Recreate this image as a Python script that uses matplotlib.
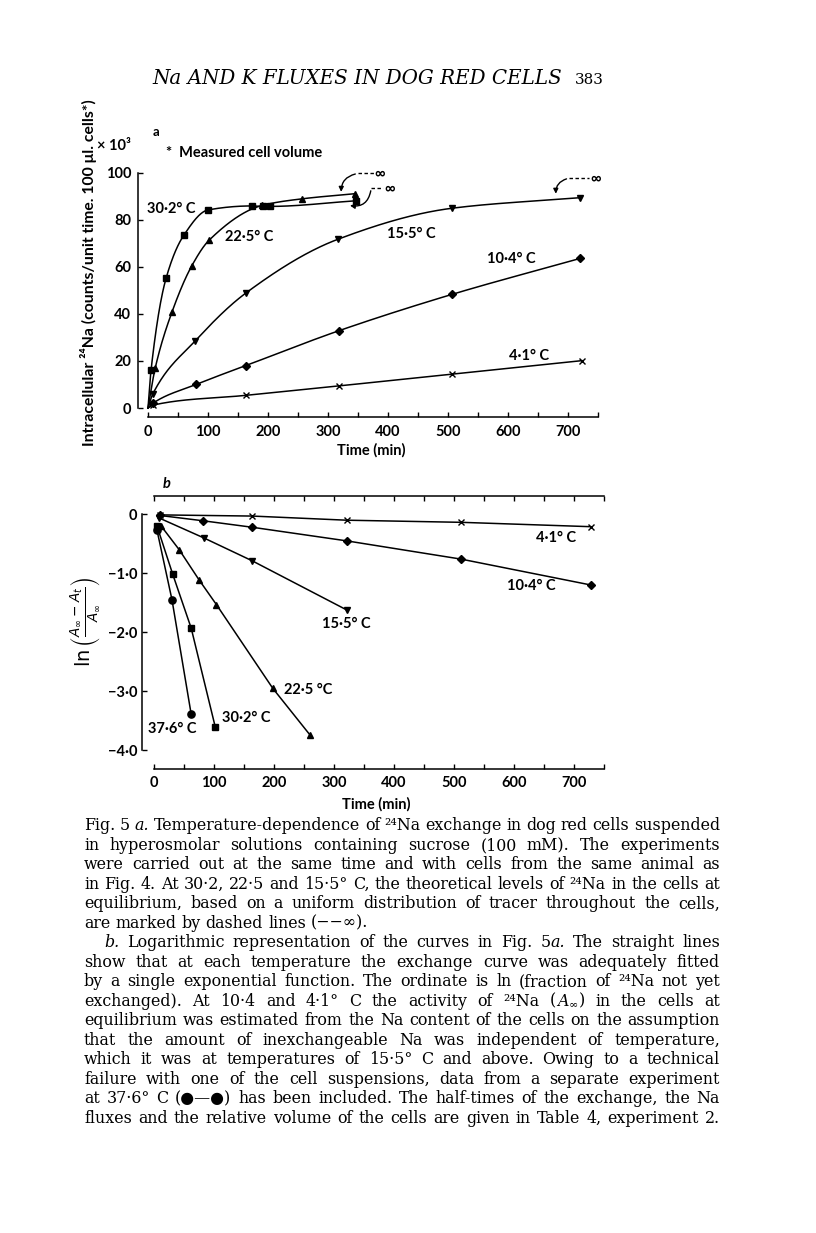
import numpy as np
import matplotlib
matplotlib.use("Agg")
import matplotlib.pyplot as plt
from matplotlib.patches import FancyArrowPatch

W, H = 816, 1233
SANS = ["Lato", "DejaVu Sans"]
SERIF = ["DejaVu Serif", "DejaVu Sans"]
plt.rcParams["font.family"] = SANS

# ---------------- data: panel a (intracellular 24Na, x10^3 counts) ----------------
a_t_41 = [8, 164, 319, 506, 723]
a_y_41 = [1.2, 5.4, 9.4, 14.4, 20.1]
a_t_104 = [8, 80, 163, 318, 506, 720]
a_y_104 = [2.0, 10.0, 18.0, 32.8, 48.2, 63.5]
a_t_155 = [8, 79, 163, 316, 506, 720]
a_y_155 = [6.0, 28.6, 48.8, 71.6, 84.8, 89.3]
a_t_225 = [12, 40, 73, 102, 190, 256, 345]
a_y_225 = [17.0, 40.8, 60.4, 71.3, 86.0, 88.8, 91.0]
a_t_302 = [5, 30, 60, 100, 173, 191, 203, 347]
a_y_302 = [16.0, 55.0, 73.5, 84.1, 85.8, 85.6, 85.6, 88.0]

# ---------------- data: panel b (ln fraction not exchanged) ----------------
b_t_41 = [10, 164, 321, 512, 728]
b_y_41 = [-0.01, -0.03, -0.10, -0.136, -0.21]
b_t_104 = [10, 82, 164, 321, 512, 729]
b_y_104 = [-0.02, -0.11, -0.22, -0.45, -0.76, -1.2]
b_t_155 = [8, 83, 164, 321]
b_y_155 = [-0.06, -0.40, -0.79, -1.62]
b_t_225 = [12, 42, 75, 104, 198, 260]
b_y_225 = [-0.20, -0.60, -1.11, -1.53, -2.95, -3.74]
b_t_302 = [5, 31, 62, 102]
b_y_302 = [-0.20, -1.01, -1.93, -3.60]
b_t_376 = [5, 30, 62]
b_y_376 = [-0.27, -1.45, -3.39]

x_ticks = list(range(0, 751, 50))
x_labels = [str(v) if (v % 100 == 0 and v <= 700) else "" for v in x_ticks]
a_yticks = [0, 20, 40, 60, 80, 100]
a_ylabels = ["0", "20", "40", "60", "80", "100"]
b_yticks = [0, -1, -2, -3, -4]
b_ylabels = ["0", "\u22121\u00b70", "\u22122\u00b70", "\u22123\u00b70", "\u22124\u00b70"]

header = "Na AND K FLUXES IN DOG RED CELLS"
page_no = "383"
caption = [
    "Fig. 5 ~a. Temperature-dependence of ²⁴Na exchange in dog red cells suspended",
    "in hyperosmolar solutions containing sucrose (100 mM). The experiments",
    "were carried out at the same time and with cells from the same animal as",
    "in Fig. 4. At 30·2, 22·5 and 15·5° C, the theoretical levels of ²⁴Na in the cells at",
    "equilibrium, based on a uniform distribution of tracer throughout the cells,",
    "are marked by dashed lines (−−∞).",
    "~b. Logarithmic representation of the curves in Fig. 5|~a. The straight lines",
    "show that at each temperature the exchange curve was adequately fitted",
    "by a single exponential function. The ordinate is ln (fraction of ²⁴Na not yet",
    "exchanged). At 10·4 and 4·1° C the activity of ²⁴Na (|$A_{\\infty}$|) in the cells at",
    "equilibrium was estimated from the Na content of the cells on the assumption",
    "that the amount of inexchangeable Na was independent of temperature,",
    "which it was at temperatures of 15·5° C and above. Owing to a technical",
    "failure with one of the cell suspensions, data from a separate experiment",
    "at 37·6° C (●—●) has been included. The half-times of the exchange, the Na",
    "fluxes and the relative volume of the cells are given in Table 4, experiment 2.",
]


def pchip(x, y, xs):
    x = np.asarray(x, float); y = np.asarray(y, float)
    h = np.diff(x); d = np.diff(y) / h
    m = np.zeros_like(y)
    m[0] = d[0]; m[-1] = d[-1]
    for k in range(1, len(x) - 1):
        if d[k - 1] * d[k] <= 0:
            m[k] = 0.0
        else:
            w1 = 2 * h[k] + h[k - 1]; w2 = h[k] + 2 * h[k - 1]
            m[k] = (w1 + w2) / (w1 / d[k - 1] + w2 / d[k])
    idx = np.clip(np.searchsorted(x, xs) - 1, 0, len(x) - 2)
    hh = h[idx]; s = (xs - x[idx]) / hh
    h00 = 2 * s**3 - 3 * s**2 + 1; h10 = s**3 - 2 * s**2 + s
    h01 = -2 * s**3 + 3 * s**2; h11 = s**3 - s**2
    return h00 * y[idx] + h10 * hh * m[idx] + h01 * y[idx + 1] + h11 * hh * m[idx + 1]


fig = plt.figure(figsize=(W / 100, H / 100), dpi=100)
fig.patch.set_facecolor("white")
R = fig.canvas.get_renderer()


def P(x, y):
    return (x / W, 1 - y / H)


def style_axes(ax):
    ax.patch.set_alpha(0)
    for s in ax.spines.values():
        s.set_linewidth(1.1)
    ax.tick_params(direction="in", length=3.8, width=1.0, labelsize=10.5, colors="black")
    for lbl in ax.get_xticklabels() + ax.get_yticklabels():
        lbl.set_fontweight("bold")


LW = 1.1
MK = dict(color="black", mec="black", mfc="black", lw=LW, clip_on=False, zorder=3)

# ================= panel a =================
axA = fig.add_axes([138 / W, 1 - 408 / H, 466 / W, 235.5 / H])
axA.set_xlim(-16.7, 760)
axA.set_ylim(0, 100)
axA.spines["top"].set_visible(False)
axA.spines["right"].set_visible(False)
axA.spines["bottom"].set_position(("outward", 6.5))
axA.spines["bottom"].set_bounds(0, 750)
axA.spines["left"].set_bounds(0, 100)
axA.set_xticks(x_ticks)
axA.set_xticklabels(x_labels)
axA.set_yticks(a_yticks)
axA.set_yticklabels(a_ylabels)
style_axes(axA)
axA.tick_params(axis="x", pad=5.5)
axA.tick_params(axis="y", pad=5)
axA.set_xlabel("Time (min)", fontsize=10.5, fontweight="bold", labelpad=3)

series_a = [
    (a_t_302, a_y_302, "s", 4.5),
    (a_t_225, a_y_225, "^", 5),
    (a_t_155, a_y_155, "v", 5),
    (a_t_104, a_y_104, "D", 4.2),
    (a_t_41, a_y_41, "x", 4.2),
]
for t, y, m, ms in series_a:
    tt = np.r_[0.0, t]
    yy = np.r_[0.0, y]
    xs = np.linspace(0, tt[-1], 400)
    axA.plot(xs, pchip(tt, yy, xs), "-", color="black", lw=LW, clip_on=False)
    axA.plot(t, y, ls="none", marker=m, ms=ms, mew=1.0, **MK)

ta = dict(fontsize=10.5, fontweight="bold", ha="center", va="center")
fig.text(*P(171, 209), "30·2° C", **ta)
fig.text(*P(249, 237), "22·5° C", **ta)
fig.text(*P(411, 234), "15·5° C", **ta)
fig.text(*P(511, 259), "10·4° C", **ta)
fig.text(*P(529, 356), "4·1° C", **ta)
fig.text(*P(156, 132), "a", fontsize=9.5, fontweight="bold", ha="center", va="center")
fig.text(*P(114, 146), "× 10³", fontsize=10.5, fontweight="bold", ha="center", va="center")
fig.text(*P(166, 153), "*  Measured cell volume", fontsize=10.5, fontweight="bold",
         ha="left", va="center")
fig.text(*P(89, 273), "Intracellular ²⁴Na (counts/unit time. 100 μl. cells*)",
         rotation=90, fontsize=11.3, fontweight="bold", ha="center", va="center")

# infinity markers (dashed leader + curved arrow)
def inf_mark(ax, x_dash0, x_dash1, y_dash, x_arrow0, y_arrow0, x_tip, y_tip, rad):
    ax.plot([x_dash0, x_dash1], [y_dash, y_dash], color="black", lw=1.0,
            ls=(0, (2.5, 1.8)), clip_on=False)
    ax.text(x_dash1 + 2, y_dash, "∞", fontsize=10.5, fontweight="bold",
            ha="left", va="center", family=SANS)
    arr = FancyArrowPatch((x_arrow0, y_arrow0), (x_tip, y_tip),
                          connectionstyle=f"arc3,rad={rad}", arrowstyle="-|>",
                          mutation_scale=7, lw=1.0, color="black", clip_on=False)
    ax.add_patch(arr)

inf_mark(axA, 350, 376, 99.6, 350, 99.6, 322, 90.6, 0.45)
inf_mark(axA, 372, 392, 93.4, 372, 93.4, 332, 86.2, -0.55)
inf_mark(axA, 702, 735, 97.6, 702, 97.6, 680, 89.8, 0.45)

# ================= panel b =================
axB = fig.add_axes([142 / W, 1 - 750.3 / H, 468 / W, 236 / H])
axB.set_xlim(-20, 760)
axB.set_ylim(-4, 0)
axB.spines["right"].set_visible(False)
axB.spines["top"].set_position(("outward", 13))
axB.spines["bottom"].set_position(("outward", 13.3))
axB.spines["top"].set_bounds(0, 750)
axB.spines["bottom"].set_bounds(0, 750)
axB.spines["left"].set_bounds(-4, 0)
axB.set_xticks(x_ticks)
axB.set_xticklabels(x_labels)
axB.set_yticks(b_yticks)
axB.set_yticklabels(b_ylabels)
style_axes(axB)
axB.tick_params(axis="x", top=True, pad=5.5)
axB.tick_params(axis="y", pad=3.5)
axB.set_xlabel("Time (min)", fontsize=10.5, fontweight="bold", labelpad=5)

series_b = [
    (b_t_41, b_y_41, "x", 4.2),
    (b_t_104, b_y_104, "D", 4.2),
    (b_t_155, b_y_155, "v", 5),
    (b_t_225, b_y_225, "^", 5),
    (b_t_302, b_y_302, "s", 4.5),
    (b_t_376, b_y_376, "o", 5.2),
]
for t, y, m, ms in series_b:
    axB.plot(t, y, "-", marker=m, ms=ms, mew=1.0, **MK)

fig.text(*P(556, 538), "4·1° C", **ta)
fig.text(*P(531, 586), "10·4° C", **ta)
fig.text(*P(346, 624), "15·5° C", **ta)
fig.text(*P(308, 690), "22·5 °C", **ta)
fig.text(*P(246, 718), "30·2° C", **ta)
fig.text(*P(172, 729), "37·6° C", **ta)
fig.text(*P(167, 484), "b", fontsize=10.5, fontweight="bold", style="italic",
         ha="center", va="center")
fig.text(*P(85, 622), r"$\ln\left(\frac{A_{\infty}-A_{t}}{A_{\infty}}\right)$",
         rotation=90, fontsize=14, ha="center", va="center", math_fontfamily="dejavusans")

# ================= header =================
th = fig.text(*P(152, 84), header, fontsize=11, style="italic", family=SERIF,
              ha="left", va="baseline")
wh = th.get_window_extent(R).width
th.set_fontsize(11 * 408 / wh)
fig.text(*P(604, 84), page_no, fontsize=11, family=SERIF, ha="right", va="baseline")

# ================= caption (justified) =================
def seg_info(seg):
    kw = dict(family=SERIF)
    if seg.startswith("~"):
        seg = seg[1:]
        kw["style"] = "italic"
    if "$" in seg:
        kw["math_fontfamily"] = "dejavuserif"
    return seg, kw


def seg_width(seg, size):
    s, kw = seg_info(seg)
    t = fig.text(0, 0, s, fontsize=size, **kw)
    w = t.get_window_extent(R).width
    t.remove()
    return w


def word_width(word, size):
    return sum(seg_width(s, size) for s in word.split("|"))


def draw_line(line, y_base, x0, x1, size, justify=True):
    words = line.split(" ")
    widths = [word_width(w, size) for w in words]
    space = seg_width("n", size) * 0.5
    if justify and len(words) > 1:
        gap = (x1 - x0 - sum(widths)) / (len(words) - 1)
    else:
        gap = space
    x = x0
    for w, ww in zip(words, widths):
        xs = x
        for seg in w.split("|"):
            s, kw = seg_info(seg)
            fig.text(*P(xs, y_base), s, fontsize=size, ha="left", va="baseline", **kw)
            xs += seg_width(seg, size)
        x += ww + gap


CAP_SIZE = 10.0
nat = []
for i, line in enumerate(caption):
    words = line.split(" ")
    x0 = 104 if i == 6 else 84
    w = (sum(word_width(wd, CAP_SIZE) for wd in words) +
         seg_width("n", CAP_SIZE) * 0.42 * (len(words) - 1))
    nat.append(w / (720 - x0))
scale = 1.0 / max(nat)
size = CAP_SIZE * scale

for i, line in enumerate(caption):
    yb = 830.5 + 19.47 * i
    x0 = 104 if i == 6 else 84
    draw_line(line, yb, x0, 720, size, justify=(i != 5))

fig.savefig("out.png", dpi=100, facecolor="white")
